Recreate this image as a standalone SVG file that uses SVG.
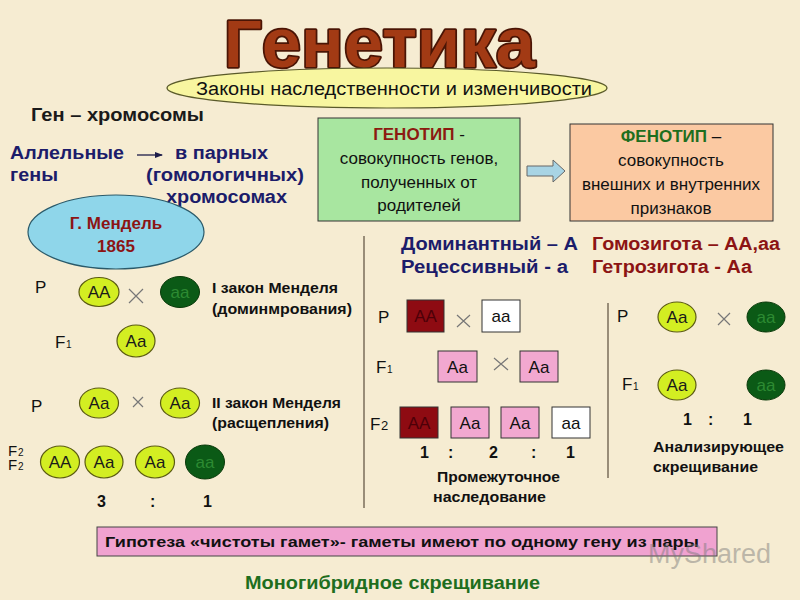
<svg xmlns="http://www.w3.org/2000/svg" width="800" height="600" viewBox="0 0 800 600">
<defs>
<style>
text{font-family:"Liberation Sans",Arial,sans-serif}
.b{font-weight:bold}
.nv{fill:#1c1c6a}
.dr{fill:#8c1414}
.dk{fill:#1a1a1a}
.lbl{font-size:17px;fill:#111}
.sub{font-size:10px;fill:#111}
.ye{fill:#d3ee22;stroke:#5b5b12;stroke-width:1.2}
.dg{fill:#0b5a16;stroke:#0a3a0a;stroke-width:1}
.yt{font-size:17px;fill:#1a1a1a;text-anchor:middle}
.gt{font-size:17px;fill:#2d8a32;text-anchor:middle}
.rr{fill:#8e0b12;stroke:#333;stroke-width:1}
.pk{fill:#f2a8d0;stroke:#333;stroke-width:1}
.wh{fill:#ffffff;stroke:#333;stroke-width:1}
.rt{font-size:17px;fill:#4d0008;text-anchor:middle}
.bt{font-size:17px;fill:#111;text-anchor:middle}
.x{stroke:#777;stroke-width:1.2;fill:none}
.sep{stroke:#7a6e5a;stroke-width:1.5}
.law{font-size:15px;font-weight:bold;fill:#111}
.ratio{font-size:16px;font-weight:bold;fill:#111}
</style>
<marker id="ah" markerWidth="8" markerHeight="8" refX="7" refY="4" orient="auto" markerUnits="userSpaceOnUse">
<path d="M0,1 L8,4 L0,7 Z" fill="#1c1c4a"/>
</marker>
</defs>
<rect width="800" height="600" fill="#f6ecd2"/>

<g id="title">
<text x="224" y="67" font-family="DejaVu Sans,sans-serif" font-weight="bold" font-size="70" fill="#a23a14" stroke="#4a1505" stroke-width="3.5" paint-order="stroke" stroke-linejoin="round" textLength="311" lengthAdjust="spacingAndGlyphs"><tspan font-size="66">Г</tspan>енетика</text>
</g>

<g id="laws">
<ellipse cx="387" cy="88" rx="220" ry="20" fill="#f8f6a0" stroke="#5a5a2a" stroke-width="1.2"/>
<text x="196" y="95" font-size="18" fill="#111" textLength="396" lengthAdjust="spacingAndGlyphs">Законы наследственности и изменчивости</text>
</g>

<g id="gene-chrom">
<text x="31" y="121" class="b dk" font-size="18" textLength="173" lengthAdjust="spacingAndGlyphs">Ген – хромосомы</text>
</g>

<g id="allelic">
<text x="10" y="159" class="b nv" font-size="18" textLength="114" lengthAdjust="spacingAndGlyphs">Аллельные</text>
<text x="10" y="181" class="b nv" font-size="18" textLength="48" lengthAdjust="spacingAndGlyphs">гены</text>
<text x="175" y="159" class="b nv" font-size="18" textLength="93" lengthAdjust="spacingAndGlyphs">в парных</text>
<text x="146" y="181" class="b nv" font-size="18" textLength="158" lengthAdjust="spacingAndGlyphs">(гомологичных)</text>
<text x="166" y="203" class="b nv" font-size="18" textLength="121" lengthAdjust="spacingAndGlyphs">хромосомах</text>
</g>

<g id="mendel">
<ellipse cx="116" cy="232" rx="88" ry="37" fill="#8fd6ea" stroke="#2a5a6a" stroke-width="1.2"/>
<text x="116" y="229" class="b dr" font-size="17" text-anchor="middle">Г. Мендель</text>
<text x="116" y="252" class="b dr" font-size="17" text-anchor="middle">1865</text>
</g>

<g id="genotype">
<rect x="318" y="118" width="202" height="103" fill="#a8e6a0" stroke="#333" stroke-width="1"/>
<text x="419" y="140" font-size="17" text-anchor="middle"><tspan class="b" fill="#8c1a10">ГЕНОТИП</tspan><tspan fill="#111"> -</tspan></text>
<text x="419" y="164" font-size="17" fill="#111" text-anchor="middle">совокупность генов,</text>
<text x="419" y="188" font-size="17" fill="#111" text-anchor="middle">полученных от</text>
<text x="419" y="211" font-size="17" fill="#111" text-anchor="middle">родителей</text>
</g>

<g id="phenotype">
<rect x="570" y="124" width="203" height="97" fill="#fbc9a2" stroke="#333" stroke-width="1"/>
<text x="671" y="142" font-size="17" text-anchor="middle"><tspan class="b" fill="#1e6e1e">ФЕНОТИП</tspan><tspan fill="#111"> –</tspan></text>
<text x="671" y="166" font-size="17" fill="#111" text-anchor="middle">совокупность</text>
<text x="671" y="190" font-size="17" fill="#111" text-anchor="middle">внешних и внутренних</text>
<text x="671" y="214" font-size="17" fill="#111" text-anchor="middle">признаков</text>
</g>

<g id="defs-text">
<text x="401" y="250" class="b nv" font-size="18" textLength="177" lengthAdjust="spacingAndGlyphs">Доминантный – А</text>
<text x="401" y="273" class="b nv" font-size="18" textLength="167" lengthAdjust="spacingAndGlyphs">Рецессивный - а</text>
<text x="592" y="250" class="b dr" font-size="18" textLength="188" lengthAdjust="spacingAndGlyphs">Гомозигота – АА,аа</text>
<text x="592" y="273" class="b dr" font-size="18" textLength="160" lengthAdjust="spacingAndGlyphs">Гетрозигота - Аа</text>
</g>

<g id="law1">
<text x="35" y="293" class="lbl">P</text>
<ellipse cx="99" cy="292" rx="20" ry="14.5" class="ye"/><text x="99" y="298" class="yt">AA</text>
<ellipse cx="180" cy="292" rx="19.5" ry="15.5" class="dg"/><text x="180" y="298" class="gt">aa</text>
<text x="212" y="293" class="law" textLength="126" lengthAdjust="spacingAndGlyphs">I закон Менделя</text>
<text x="212" y="314" class="law" textLength="140" lengthAdjust="spacingAndGlyphs">(доминмрования)</text>
<text x="55" y="348" class="lbl">F</text><text x="66" y="348" class="sub">1</text>
<ellipse cx="136" cy="341" rx="19" ry="16" class="ye"/><text x="136" y="347" class="yt">Aa</text>
</g>

<g id="law2">
<text x="31" y="412" class="lbl">P</text>
<ellipse cx="99" cy="403" rx="19.5" ry="15" class="ye"/><text x="99" y="409" class="yt">Aa</text>
<ellipse cx="180" cy="403" rx="19.5" ry="15" class="ye"/><text x="180" y="409" class="yt">Aa</text>
<text x="212" y="408" class="law" textLength="129" lengthAdjust="spacingAndGlyphs">II закон Менделя</text>
<text x="212" y="428" class="law" textLength="117" lengthAdjust="spacingAndGlyphs">(расщепления)</text>
<text x="8" y="456" font-size="15" fill="#111">F</text><text x="18" y="456" class="sub">2</text>
<text x="8" y="470" font-size="15" fill="#111">F</text><text x="18" y="470" class="sub">2</text>
<ellipse cx="60" cy="462" rx="19.5" ry="16" class="ye"/><text x="60" y="468" class="yt">AA</text>
<ellipse cx="104" cy="462" rx="19" ry="16" class="ye"/><text x="104" y="468" class="yt">Aa</text>
<ellipse cx="155" cy="462" rx="19.5" ry="16" class="ye"/><text x="155" y="468" class="yt">Aa</text>
<ellipse cx="205" cy="462" rx="19.5" ry="17" class="dg"/><text x="205" y="468" class="gt">aa</text>
<text x="97" y="507" class="ratio">3</text>
<text x="150" y="507" class="ratio">:</text>
<text x="203" y="507" class="ratio">1</text>
</g>

<g id="intermediate">
<text x="378" y="323" class="lbl">P</text>
<rect x="407" y="300" width="37" height="32" class="rr"/><text x="425.5" y="322" class="rt">AA</text>
<rect x="482" y="300" width="38" height="32" class="wh"/><text x="501" y="322" class="bt">aa</text>
<text x="376" y="373" class="lbl">F</text><text x="387" y="373" class="sub">1</text>
<rect x="438" y="351" width="39" height="31" class="pk"/><text x="457.5" y="373" class="bt">Aa</text>
<rect x="520" y="351" width="38" height="31" class="pk"/><text x="539" y="373" class="bt">Aa</text>
<text x="370" y="430" class="lbl">F</text><text x="381" y="430" font-size="13" fill="#111">2</text>
<rect x="400" y="407" width="38" height="31" class="rr"/><text x="419" y="429" class="rt">AA</text>
<rect x="451" y="407" width="38" height="31" class="pk"/><text x="470" y="429" class="bt">Aa</text>
<rect x="501" y="407" width="38" height="31" class="pk"/><text x="520" y="429" class="bt">Aa</text>
<rect x="552" y="407" width="38" height="31" class="wh"/><text x="571" y="429" class="bt">aa</text>
<text x="420" y="458" class="ratio">1</text>
<text x="448" y="458" class="ratio">:</text>
<text x="489" y="458" class="ratio">2</text>
<text x="531" y="458" class="ratio">:</text>
<text x="566" y="458" class="ratio">1</text>
<text x="437" y="482" class="law" textLength="123" lengthAdjust="spacingAndGlyphs">Промежуточное</text>
<text x="433" y="502" class="law" textLength="113" lengthAdjust="spacingAndGlyphs">наследование</text>
</g>

<g id="analyzing">
<text x="617" y="322" class="lbl">P</text>
<ellipse cx="677" cy="317" rx="19" ry="15" class="ye"/><text x="677" y="323" class="yt">Aa</text>
<ellipse cx="766" cy="317" rx="19" ry="15" class="dg"/><text x="766" y="323" class="gt">aa</text>
<text x="622" y="390" class="lbl">F</text><text x="633" y="390" class="sub">1</text>
<ellipse cx="677" cy="385" rx="19" ry="15" class="ye"/><text x="677" y="391" class="yt">Aa</text>
<ellipse cx="766" cy="385" rx="19" ry="15" class="dg"/><text x="766" y="391" class="gt">aa</text>
<text x="683" y="425" class="ratio">1</text>
<text x="708" y="425" class="ratio">:</text>
<text x="743" y="425" class="ratio">1</text>
<text x="653" y="452" class="law" textLength="131" lengthAdjust="spacingAndGlyphs">Анализирующее</text>
<text x="653" y="472" class="law" textLength="105" lengthAdjust="spacingAndGlyphs">скрещивание</text>
</g>

<g id="hypothesis">
<rect x="97" y="527" width="620" height="29" fill="#f0a2d0" stroke="#444" stroke-width="1"/>
<text x="105" y="547" font-size="15" fill="#111" font-weight="bold" textLength="594" lengthAdjust="spacingAndGlyphs">Гипотеза «чистоты гамет»- гаметы имеют по одному гену из пары</text>
</g>

<g id="caption">
<text x="245" y="589" class="b" font-size="18" fill="#1e6e1e" textLength="295" lengthAdjust="spacingAndGlyphs">Моногибридное скрещивание</text>
</g>

<g id="watermark" opacity="0.45">
<text x="648" y="563" font-size="27" fill="#777">MyShared</text>
</g>

<g id="connectors">
<line x1="137" y1="155" x2="162" y2="155" stroke="#1c1c4a" stroke-width="1.3" marker-end="url(#ah)"/>
<polygon points="527,166 553,166 553,160 565,171 553,182 553,176 527,176" fill="#a8d4e4" stroke="#666" stroke-width="1"/>
<path class="x" d="M129,289 L143,303 M143,289 L129,303"/>
<path class="x" d="M133,397 L143,407 M143,397 L133,407"/>
<path class="x" d="M457,315 L470,327 M470,315 L457,327"/>
<path class="x" d="M494,358 L508,370 M508,358 L494,370"/>
<path class="x" d="M718,313 L730,325 M730,313 L718,325"/>
<line class="sep" x1="364" y1="236" x2="364" y2="508"/>
<line class="sep" x1="608" y1="303" x2="608" y2="478"/>
</g>
</svg>
